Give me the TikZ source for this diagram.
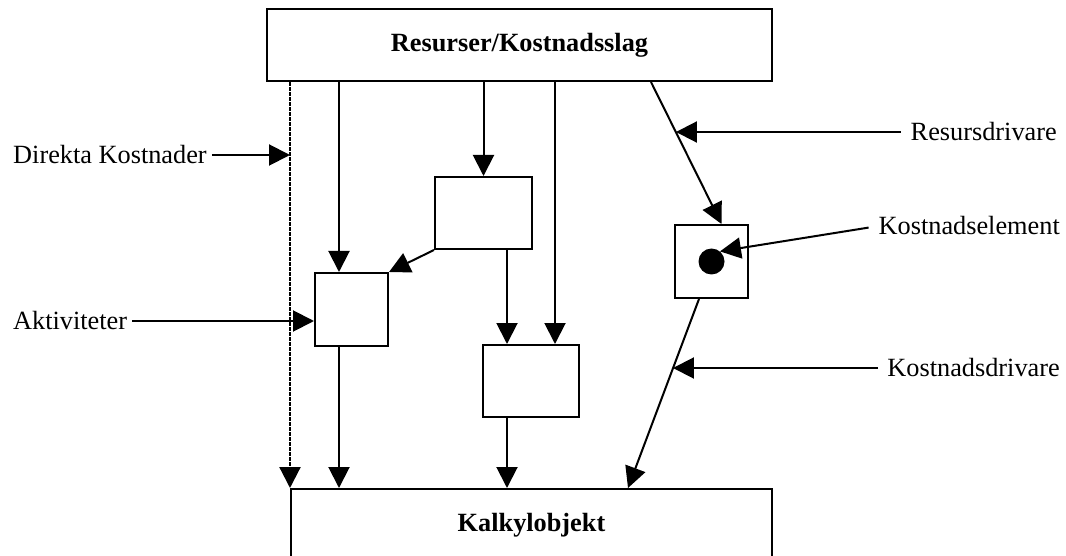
\documentclass[tikz,border=0pt]{standalone}
\usepackage{fontspec}
\setmainfont{Liberation Serif}
\usetikzlibrary{arrows.meta,
	calc,
	positioning}
\tikzstyle{box}=[draw, line width=2pt, inner sep=0]
\tikzstyle{lbl}=[inner sep=0, font=\fontsize{26.3}{31}\selectfont]
\tikzstyle{arr}=[line width=2pt, -{Triangle[length=21pt,width=21pt]}]

\begin{document}
\begin{tikzpicture}[x=1pt, y=-1pt]
        \clip (0,0) rectangle (1066,556);
        \node[box, minimum width=505pt, minimum height=72pt, font=\fontsize{26.3}{31}\selectfont\bfseries] (res) at (519.5,45) {Resurser/Kostnadsslag};
        \node[box, minimum width=481pt, minimum height=72pt, font=\fontsize{26.3}{31}\selectfont\bfseries] (kalk) at (531.5,525) {Kalkylobjekt};
        \node[box, minimum width=73pt, minimum height=73pt] (akt) at (351.5,309.5) {};
        \node[box, minimum width=97pt, minimum height=72pt] (b) at (483.5,213) {};
        \node[box, minimum width=96pt, minimum height=72pt] (c) at (531,381) {};
        \node[box, minimum width=73pt, minimum height=73pt] (el) at (711.5,261.5) {};
        \node[circle, fill, inner sep=0, minimum size=26pt] (dot) at (el.center) {};
        % labels
        \node[lbl, anchor=west] (dk) at (13,155) {Direkta Kostnader};
        \node[lbl, anchor=west] (ak) at (13,321) {Aktiviteter};
        \node[lbl, anchor=east] (rd) at (1057,132) {Resursdrivare};
        \node[lbl, anchor=east] (ke) at (1060,226) {Kostnadselement};
        \node[lbl, anchor=east] (kd) at (1060,368) {Kostnadsdrivare};
        % diagonals
        \coordinate (s1) at ([xshift=131.5pt]res.south);
        \coordinate (e1) at ([xshift=10pt]el.north);
        \coordinate (s2) at ([xshift=-12.5pt]el.south);
        \coordinate (e2) at ([xshift=96.5pt]kalk.north);
        \coordinate (p1) at ($(s1)!0.354!(e1)$);
        \coordinate (p2) at ($(s2)!0.3665!(e2)$);
        \draw[arr, line width=2.2pt, dash pattern=on 1.6pt off 0.9pt] ([xshift=24pt]res.south west) -- (kalk.north west);
        \draw[arr] ([xshift=-12.5pt]akt.north |- res.south) -- ([xshift=-12.5pt]akt.north);
        \draw[arr] (b.north |- res.south) -- (b.north);
        \draw[arr] ([xshift=24pt]c.north |- res.south) -- ([xshift=24pt]c.north);
        \draw[arr] ([xshift=-24pt]c.north |- b.south) -- ([xshift=-24pt]c.north);
        \draw[arr] (b.south west) -- (akt.north east);
        \draw[arr] ([xshift=-12.5pt]akt.south) -- ([xshift=-12.5pt]akt.south |- kalk.north);
        \draw[arr] ([xshift=-24pt]c.south) -- ([xshift=-24pt]c.south |- kalk.north);
        \draw[arr] (s1) -- (e1);
        \draw[arr] (s2) -- (e2);
        \draw[arr, shorten <=5pt] (dk.east) -- (dk.east -| kalk.north west);
        \draw[arr, shorten <=5pt] (ak.east) -- (ak.east -| akt.west);
        \draw[arr, shorten <=10pt] (rd.west) -- (rd.west -| p1);
        \draw[arr, shorten <=10pt] (ke.west) -- (dot.50);
        \draw[arr, shorten <=9pt] (kd.west) -- (kd.west -| p2);
    \end{tikzpicture}
\end{document}
